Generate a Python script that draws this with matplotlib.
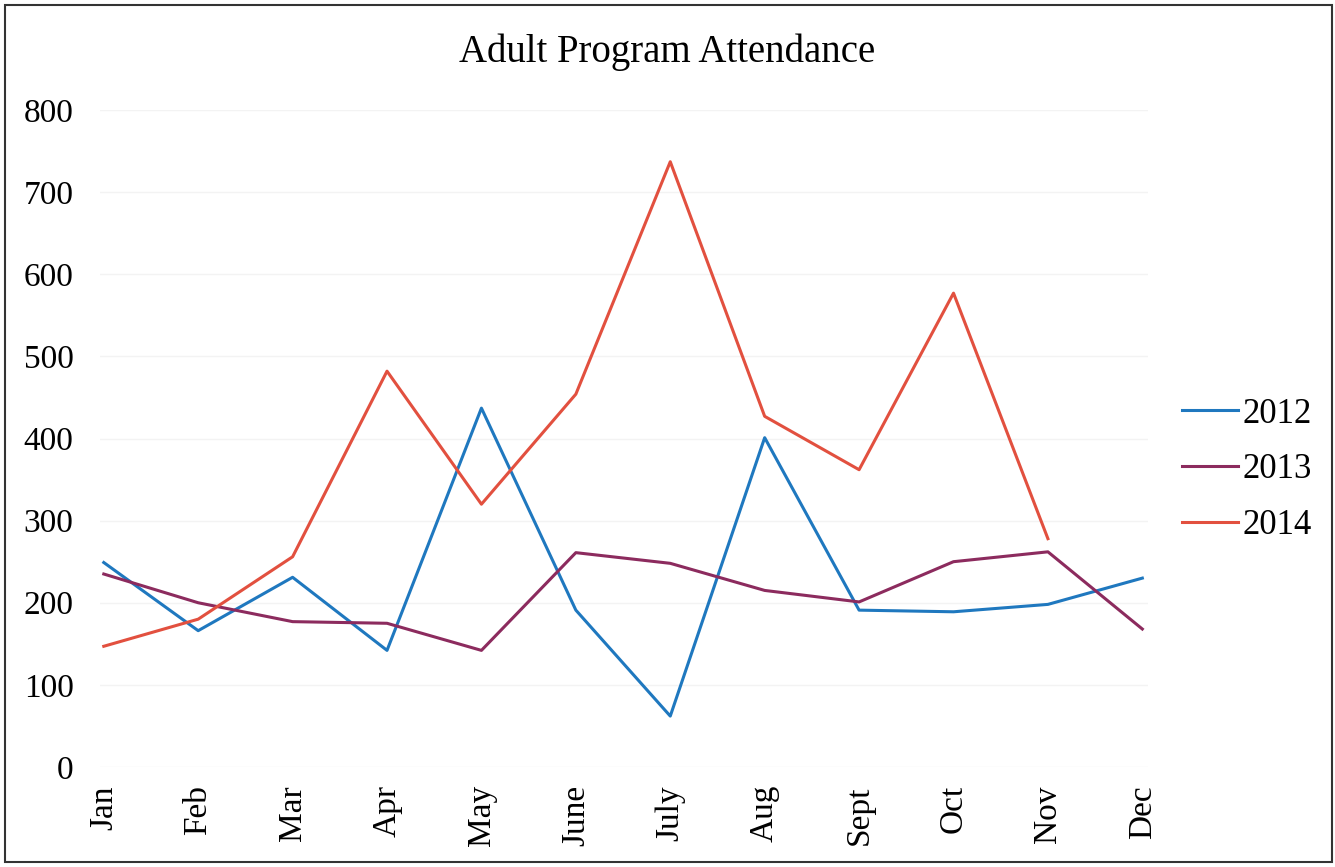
from matplotlib import pyplot as plt
from matplotlib.patches import Rectangle

plt.rcParams['font.family'] = ['Liberation Serif', 'DejaVu Serif']

months = ['Jan', 'Feb', 'Mar', 'Apr', 'May', 'June', 'July', 'Aug', 'Sept', 'Oct', 'Nov', 'Dec']
att2012 = [249, 166, 231, 142, 437, 191, 62, 401, 191, 189, 198, 230]
att2013 = [235, 200, 177, 175, 142, 261, 248, 215, 201, 250, 262, 168]
att2014 = [147, 180, 256, 482, 320, 454, 737, 427, 362, 577, 278]

colors = {'2012': '#1f78bf', '2013': '#8c2b5e', '2014': '#e2503f'}

fig = plt.figure(figsize=(13.35, 8.67), dpi=100)
ax = fig.add_axes([100 / 1335, 100 / 867, 1048 / 1335, 657 / 867])

x = list(range(len(months)))
ax.plot(x, att2012, color=colors['2012'], lw=2.2, label='2012')
ax.plot(x, att2013, color=colors['2013'], lw=2.2, label='2013')
ax.plot(x[:len(att2014)], att2014, color=colors['2014'], lw=2.2, label='2014')

ax.set_xlim(-0.04, 11.06)
ax.set_ylim(0, 800)
ax.set_yticks(range(0, 801, 100))
ax.set_xticks(x)
ax.set_xticklabels(months, rotation=90, fontsize=24)
ax.tick_params(axis='y', labelsize=24, length=0, pad=19)
ax.tick_params(axis='x', length=0, pad=13)
for s in ax.spines.values():
    s.set_visible(False)
ax.yaxis.grid(True, color='#f3f3f3', lw=1)
ax.set_axisbelow(True)

fig.text(0.5, 1 - 52 / 867, 'Adult Program Attendance', ha='center', va='center', fontsize=28)

# legend sits outside the plot on the right, no frame
ax.legend(loc='center left', bbox_to_anchor=(1182 / 1335, 1 - 470 / 867),
          bbox_transform=fig.transFigure, frameon=False, fontsize=25,
          handlelength=1.6, handletextpad=0.15, labelspacing=0.66,
          borderpad=0, borderaxespad=0)

fig.patches.append(Rectangle((5 / 1335, 5 / 867), 1 - 8 / 1335, 1 - 10 / 867,
                             transform=fig.transFigure, fill=False, ec='#333333', lw=1.5))

fig.savefig('out.png', dpi=100)
